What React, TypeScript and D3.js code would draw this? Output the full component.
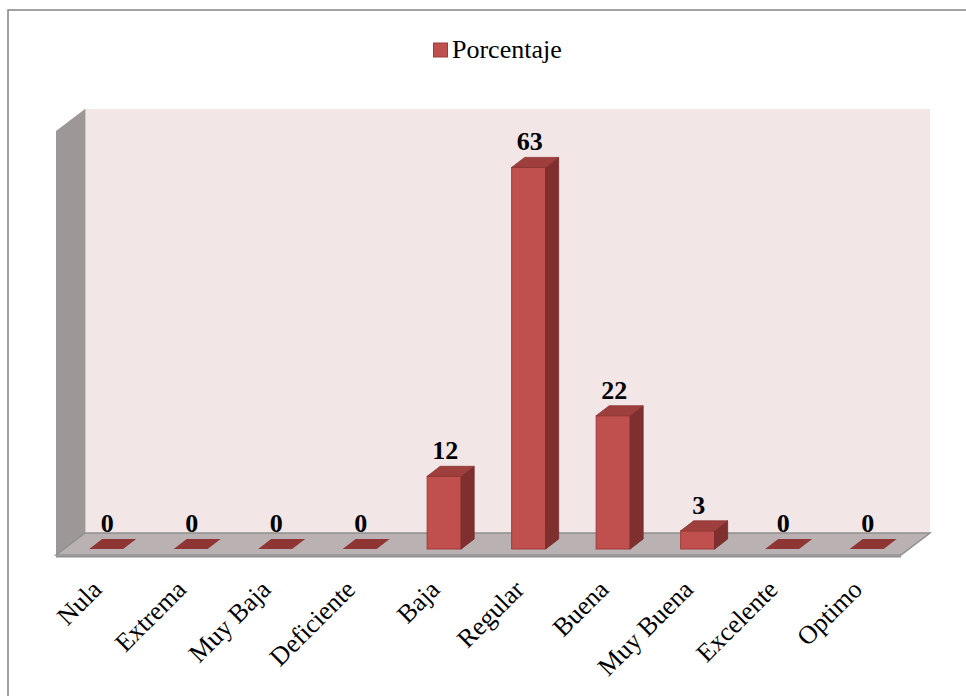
import React from "react";
import * as d3 from "d3";

const categories = ["Nula", "Extrema", "Muy Baja", "Deficiente", "Baja", "Regular", "Buena", "Muy Buena", "Excelente", "Optimo"];
const values = [0, 0, 0, 0, 12, 63, 22, 3, 0, 0];
const seriesName = "Porcentaje";
const yDomainMax = 70;

const W = 966;
const H = 696;
const FONT = "'Liberation Serif', 'Times New Roman', serif";

export default function App() {
  const x = d3.scaleBand<string>().domain(categories).range([85, 930]).padding(0);
  const y = d3.scaleLinear().domain([0, yDomainMax]).range([533, 109]);

  // oblique depth: back plane -> front plane (dx, dy)
  const depthDx = -29;
  const depthDy = 22;
  const tFront = 16 / 22;
  const barDx = 13;
  const barDy = -10;
  const halfW = 17;

  const floorFrontY = y(0) + depthDy;

  return (
    <svg width={W} height={H} style={{ position: "absolute", left: 0, top: 0, background: "#fff" }}>
      <rect x={8} y={10} width={1000} height={1000} fill="#fff" stroke="#8a8a8a" strokeWidth={1.6} />
      {/* back wall */}
      <rect x={85} y={y(yDomainMax)} width={930 - 85} height={y(0) - y(yDomainMax)} fill="#f3e6e6" />
      {/* left wall */}
      <polygon
        points={`85,${y(yDomainMax)} ${85 + depthDx},${y(yDomainMax) + depthDy} ${85 + depthDx},${floorFrontY} 85,${y(0)}`}
        fill="#9d9797"
      />
      <line x1={85.5} x2={85.5} y1={y(yDomainMax)} y2={y(0)} stroke="#cfc8c8" strokeWidth={1} />
      {/* floor */}
      <polygon
        points={`85,${y(0)} 930,${y(0)} ${930 + depthDx},${floorFrontY} ${85 + depthDx},${floorFrontY}`}
        fill="#bab2b2"
        stroke="#8f8f8f"
        strokeWidth={1.5}
      />
      <line x1={85 + depthDx} x2={930 + depthDx} y1={floorFrontY + 1.5} y2={floorFrontY + 1.5} stroke="#8f8f8f" strokeWidth={2} />
      {/* bars */}
      {categories.map((c, i) => {
        const v = values[i];
        const cx = (x(c) as number) + x.bandwidth() / 2 + depthDx * tFront;
        const y0 = y(0) + depthDy * tFront;
        const yv = y(v) + depthDy * tFront;
        const l = cx - halfW;
        const r = cx + halfW;
        const topPts = `${l},${yv} ${r},${yv} ${r + barDx},${yv + barDy} ${l + barDx},${yv + barDy}`;
        return (
          <g key={c}>
            {v > 0 ? (
              <>
                <rect x={l} y={yv} width={r - l} height={y0 - yv} fill="#c0504d" stroke="#9c3b39" strokeWidth={1} />
                <polygon
                  points={`${r},${yv} ${r + barDx},${yv + barDy} ${r + barDx},${y0 + barDy} ${r},${y0}`}
                  fill="#7f2f2e"
                  stroke="#74292a"
                  strokeWidth={0.8}
                />
                <polygon points={topPts} fill="#9e3f3d" stroke="#8a3533" strokeWidth={0.8} />
              </>
            ) : (
              <polygon points={topPts} fill="#8f3533" />
            )}
            <text
              x={cx + 1}
              y={yv + barDy - 7}
              textAnchor="middle"
              fontFamily={FONT}
              fontWeight="bold"
              fontSize={26}
              fill="#000"
            >
              {v}
            </text>
            <text
              transform={`translate(${cx - 3},${591}) rotate(-45)`}
              textAnchor="end"
              fontFamily={FONT}
              fontSize={26}
              fill="#000"
            >
              {c}
            </text>
          </g>
        );
      })}
      {/* legend */}
      <rect x={433.5} y={43} width={14} height={14} fill="#c0504d" stroke="#9c3b39" strokeWidth={1} />
      <text x={452} y={58} fontFamily={FONT} fontSize={26} fill="#000">
        {seriesName}
      </text>
    </svg>
  );
}
